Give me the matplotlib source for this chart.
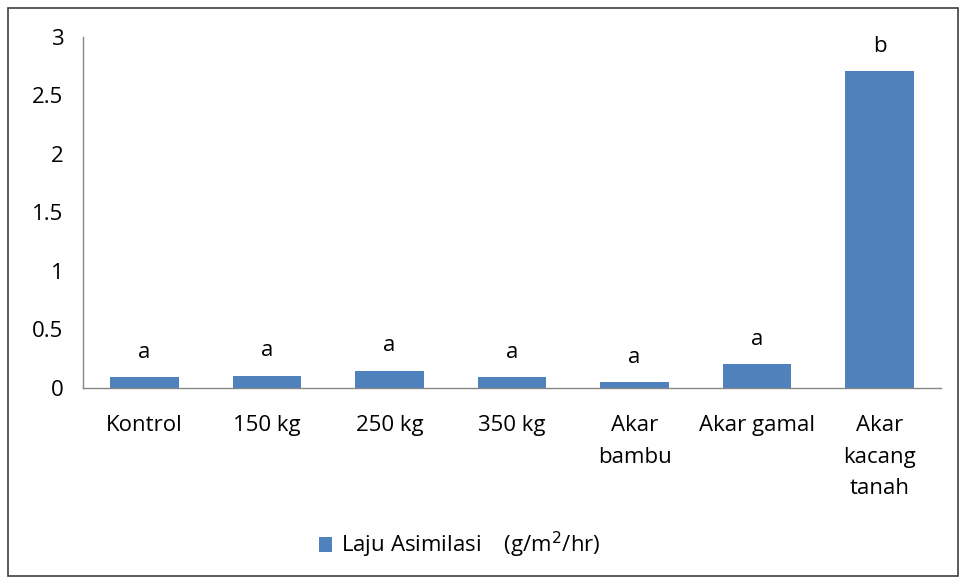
import matplotlib.pyplot as plt
from matplotlib.patches import Rectangle

plt.rcParams['font.family'] = ['Open Sans', 'DejaVu Sans']

# data
categories = ["Kontrol", "150 kg", "250 kg", "350 kg", "Akar\nbambu", "Akar gamal", "Akar\nkacang\ntanah"]
laju_asimilasi = [0.086, 0.10, 0.142, 0.086, 0.045, 0.20, 2.705]
notasi = ["a", "a", "a", "a", "a", "a", "b"]

BAR_COLOR = "#4F81BD"
AXIS_COLOR = "#868686"
FS = 16

fig = plt.figure(figsize=(9.61, 5.80), dpi=100)
ax = fig.add_axes([83 / 961, 1 - 387.5 / 580, (941 - 83) / 961, (387.5 - 37) / 580])

x = range(len(categories))
bars = ax.bar(x, laju_asimilasi, width=0.56, color=BAR_COLOR, label="Laju Asimilasi    (g/m$^{2}$/hr)")

for xi, v, n in zip(x, laju_asimilasi, notasi):
    ax.annotate(n, (xi, v), xytext=(0, 18), textcoords="offset points",
                ha="center", va="center", fontsize=FS)

ax.set_xlim(-0.5, len(categories) - 0.5)
ax.set_ylim(0, 3)
ax.set_yticks([0, 0.5, 1, 1.5, 2, 2.5, 3])
ax.set_yticklabels(["0", "0.5", "1", "1.5", "2", "2.5", "3"])
ax.set_xticks(list(x))
ax.set_xticklabels(categories, linespacing=1.65)
ax.tick_params(axis="both", length=0, labelsize=FS)
ax.tick_params(axis="x", pad=20)
ax.tick_params(axis="y", pad=14)

for side in ["top", "right"]:
    ax.spines[side].set_visible(False)
for side in ["left", "bottom"]:
    ax.spines[side].set_color(AXIS_COLOR)
    ax.spines[side].set_linewidth(1.0)

fig.legend(handles=[bars], loc="center", bbox_to_anchor=(460 / 961, 1 - 545 / 580),
           frameon=False, fontsize=FS, handlelength=0.6, handleheight=0.6, handletextpad=0.4)

# outer chart border
fig.patches.append(Rectangle((8 / 961, 4 / 580), 950 / 961, 568 / 580, transform=fig.transFigure,
                             fill=False, edgecolor="#404040", linewidth=1.2))

fig.savefig("out.png", dpi=100)
